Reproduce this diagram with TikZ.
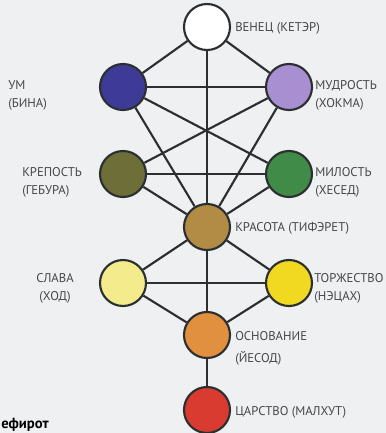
\documentclass[tikz,border=0pt]{standalone}
\usepackage{fontspec}
\setmainfont{PT Sans}
\usepackage{xcolor}
\usepackage{tikz}
\usetikzlibrary{positioning}

\definecolor{paper}{HTML}{EEF0F1}
\definecolor{linegray}{HTML}{2B2F30}
\definecolor{textgray}{HTML}{44484A}
\definecolor{binacol}{HTML}{3E3B98}
\definecolor{hokhmacol}{HTML}{A88FD2}
\definecolor{gevuracol}{HTML}{6D6E38}
\definecolor{hesedcol}{HTML}{3F8B47}
\definecolor{tiferetcol}{HTML}{B28B45}
\definecolor{hodcol}{HTML}{F3EB8C}
\definecolor{netzachcol}{HTML}{F1D821}
\definecolor{yesodcol}{HTML}{E0903F}
\definecolor{malkhutcol}{HTML}{D93B30}

\begin{document}
\begin{tikzpicture}[x=0.75pt, y=-0.75pt,
  link/.style={line width=1.6pt, draw=linegray},
  sefira/.style={circle, draw=linegray, line width=1.6pt, minimum size=34.5pt, inner sep=0pt},
  lbl/.style={text=textgray, font=\fontsize{9.5}{14}\selectfont, inner sep=0pt, align=left}
]

  % Page background and frame
  \fill[paper] (0,0) rectangle (386,433);
  \useasboundingbox (0,0) rectangle (386,433);
  \clip (0,0) rectangle (386,433);

  % Sefirot
  \node (keter) [sefira, fill=white] at (207, 27) {};
  \node (bina) [sefira, fill=binacol] at (123, 87) {};
  \node (hokhma) [sefira, fill=hokhmacol] at (289, 87) {};
  \node (gevura) [sefira, fill=gevuracol] at (123, 174) {};
  \node (hesed) [sefira, fill=hesedcol] at (289, 174) {};
  \node (tiferet) [sefira, fill=tiferetcol] at (207, 227) {};
  \node (hod) [sefira, fill=hodcol] at (123, 283) {};
  \node (netzach) [sefira, fill=netzachcol] at (289, 283) {};
  \node (yesod) [sefira, fill=yesodcol] at (207, 335) {};
  \node (malkhut) [sefira, fill=malkhutcol] at (207, 410) {};

  % Paths
  \draw[link] (keter) -- (bina);
  \draw[link] (keter) -- (hokhma);
  \draw[link] (keter) -- (tiferet);
  \draw[link] (bina) -- (hokhma);
  \draw[link] (bina) -- (hesed);
  \draw[link] (hokhma) -- (gevura);
  \draw[link] (bina) -- (tiferet);
  \draw[link] (hokhma) -- (tiferet);
  \draw[link] (gevura) -- (hesed);
  \draw[link] (gevura) -- (tiferet);
  \draw[link] (hesed) -- (tiferet);
  \draw[link] (tiferet) -- (hod);
  \draw[link] (tiferet) -- (netzach);
  \draw[link] (tiferet) -- (yesod);
  \draw[link] (hod) -- (netzach);
  \draw[link] (hod) -- (yesod);
  \draw[link] (netzach) -- (yesod);
  \draw[link] (yesod) -- (malkhut);

  % Labels
  \node (keterlbl) [lbl, anchor=west] at (235, 28) {ВЕНЕЦ (КЕТЭР)};
  \node (binalbl) [lbl, anchor=north west] at (8, 80) {УМ\\(БИНА)};
  \node (hokhmalbl) [lbl, anchor=north west] at (315, 80) {МУДРОСТЬ\\(ХОКМА)};
  \node (gevuralbl) [lbl, anchor=north west] at (22, 167) {КРЕПОСТЬ\\(ГЕБУРА)};
  \node (hesedlbl) [lbl, anchor=north west] at (315, 167) {МИЛОСТЬ\\(ХЕСЕД)};
  \node (tiferetlbl) [lbl, anchor=west] at (235, 228) {КРАСОТА (ТИФЭРЕТ)};
  \node (hodlbl) [lbl, align=center, anchor=north] at (55, 273) {СЛАВА\\(ХОД)};
  \node (netzachlbl) [lbl, anchor=north west] at (314, 273) {ТОРЖЕСТВО\\(НЭЦАХ)};
  \node (yesodlbl) [lbl, anchor=north west] at (235, 331) {ОСНОВАНИЕ\\[3pt](ЙЕСОД)};
  \node (malkhutlbl) [lbl, anchor=west] at (235, 412) {ЦАРСТВО (МАЛХУТ)};

  % Caption at the page edge
  \node (caption) [anchor=base west, inner sep=0pt, font=\bfseries\fontsize{11}{13}\selectfont] at (1, 428) {ефирот};

\end{tikzpicture}
\end{document}
